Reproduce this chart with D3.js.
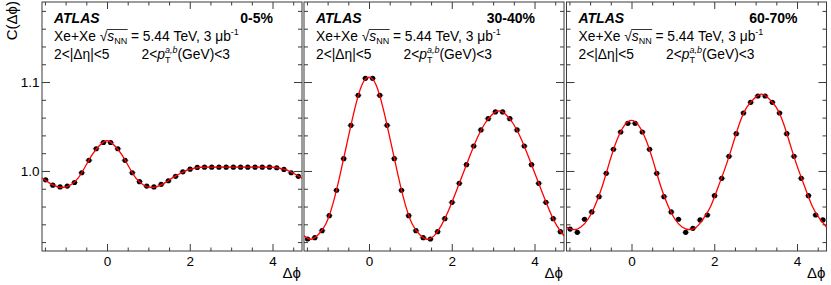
<!DOCTYPE html>
<html>
<head>
<meta charset="utf-8">
<script src="https://cdn.jsdelivr.net/npm/d3@7"></script>
<style>
  body { margin: 0; background: #fff; }
  svg text { font-family: "Liberation Sans", Arial, Helvetica, sans-serif; fill: #000; white-space: pre; }
</style>
</head>
<body>
<div id="chart"></div>
<script>
// Canvas and panel layout
const width = 831, height = 285;
const panelLeft = [42, 304, 566.5], panelWidth = 260;
const plotTop = 2, plotBottom = 251;

// Binning of delta-phi: 36 bins from -pi/2 to 3pi/2
const nBins = 36;
const phiMin = -Math.PI / 2, phiMax = 3 * Math.PI / 2;

// Labels
const centrality = ["0-5%", "30-40%", "60-70%"];
const xTickValues = [0, 2, 4];
const yTickValues = [1.0, 1.1];
const yTickLabels = ["1.0", "1.1"];

// C(dphi) per bin
const corr0to5 = [0.990, 0.984, 0.982, 0.983, 0.987, 0.998, 1.012, 1.025, 1.032, 1.032, 1.025, 1.012,
  0.998, 0.988, 0.983, 0.982, 0.985, 0.989, 0.994, 0.999, 1.002, 1.004, 1.0043, 1.0043,
  1.0043, 1.0043, 1.0043, 1.0043, 1.0043, 1.0043, 1.0043, 1.0043, 1.0036, 1.0017, 0.998, 0.994];
const corr30to40 = [0.9235, 0.925, 0.9328, 0.9497, 0.9783, 1.0138, 1.0513, 1.0851, 1.1042, 1.1042, 1.0851, 1.0513,
  1.0138, 0.9783, 0.9497, 0.9328, 0.925, 0.9235, 0.9317, 0.9463, 0.9647, 0.9861, 1.0071, 1.0281,
  1.0461, 1.0588, 1.0664, 1.0664, 1.0588, 1.0461, 1.0281, 1.0071, 0.9861, 0.9647, 0.9463, 0.9317];
const corr60to70 = [0.9347, 0.931, 0.9457, 0.9539, 0.9711, 0.9974, 1.0244, 1.0438, 1.0536, 1.0536, 1.0438, 1.0244,
  0.9974, 0.9711, 0.9539, 0.9457, 0.931, 0.9355, 0.9449, 0.9505, 0.9722, 0.9917, 1.0165, 1.0419,
  1.0652, 1.0772, 1.0843, 1.0843, 1.0772, 1.0652, 1.0419, 1.0165, 0.9917, 0.9722, 0.9505, 0.9449];

// Fit curve read at the 37 bin edges
const fit0to5 = [0.992, 0.9866, 0.9826, 0.9815, 0.9845, 0.992, 1.005, 1.019, 1.029, 1.034, 1.029, 1.019, 1.005,
  0.992, 0.9845, 0.9815, 0.9826, 0.9866, 0.992, 0.9966, 1.0007, 1.003, 1.0042, 1.0044, 1.0044,
  1.0044, 1.0044, 1.0044, 1.0044, 1.0044, 1.0044, 1.0044, 1.0042, 1.003, 1.0007, 0.9966, 0.992];
const fit30to40 = [0.927, 0.9232, 0.9285, 0.940, 0.963, 0.996, 1.033, 1.069, 1.0965, 1.1055, 1.0965, 1.069, 1.033,
  0.996, 0.963, 0.940, 0.9285, 0.9232, 0.927, 0.9385, 0.9553, 0.9754, 0.9966, 1.0176, 1.0374,
  1.0528, 1.0630, 1.0675, 1.0630, 1.0528, 1.0374, 1.0176, 0.9966, 0.9754, 0.9553, 0.9385, 0.927];
const fit60to70 = [0.937, 0.934, 0.937, 0.946, 0.962, 0.984, 1.011, 1.035, 1.051, 1.057, 1.051, 1.035, 1.011,
  0.984, 0.962, 0.946, 0.937, 0.934, 0.937, 0.947, 0.961, 0.982, 1.004, 1.029, 1.0545,
  1.072, 1.0815, 1.0865, 1.0815, 1.072, 1.0545, 1.029, 1.004, 0.982, 0.961, 0.947, 0.937];

const corrSeries = [corr0to5, corr30to40, corr60to70];
const fitSeries = [fit0to5, fit30to40, fit60to70];

const binWidth = (phiMax - phiMin) / nBins;
const binCenters = d3.range(nBins).map(i => phiMin + (i + 0.5) * binWidth);
const binEdges = d3.range(nBins + 1).map(i => phiMin + i * binWidth);

const svg = d3.select("#chart").append("svg")
  .attr("width", width)
  .attr("height", height);

const y = d3.scaleLinear().domain([0.91, 1.19]).range([plotBottom, plotTop]);

const frameColor = "#3a3a3a";

// helper: write a line of text made of pieces (sub/superscripts, stacked)
function richText(g, x0, y0, pieces, size) {
  let cx = x0, held = 0;
  pieces.forEach(p => {
    const t = g.append("text")
      .attr("x", cx)
      .attr("y", y0 + (p.dy || 0))
      .attr("font-size", p.size || size)
      .attr("font-style", p.italic ? "italic" : null)
      .text(p.t);
    const w = t.node().getComputedTextLength();
    if (p.hold) { held = w; }
    else { cx += Math.max(w, held); held = 0; }
  });
  return cx;
}

centrality.forEach((label, k) => {
  const L = panelLeft[k];
  const x = d3.scaleLinear().domain([phiMin, phiMax]).range([L, L + panelWidth]);
  const g = svg.append("g");

  // axes with inward ticks on all sides
  const minorX = d3.range(-1.5, 4.75, 0.5).filter(v => !xTickValues.includes(v));
  const minorY = d3.range(0.92, 1.185, 0.02).filter(v => !yTickValues.some(t => Math.abs(t - v) < 1e-6));

  const axes = [
    { gen: d3.axisBottom(x).tickValues(xTickValues).tickSize(-7).tickFormat(d3.format("d")).tickPadding(5), tr: `translate(0,${plotBottom})` },
    { gen: d3.axisBottom(x).tickValues(minorX).tickSize(-3.5).tickFormat(""), tr: `translate(0,${plotBottom})` },
    { gen: d3.axisTop(x).tickValues(xTickValues).tickSize(-7).tickFormat(""), tr: `translate(0,${plotTop})` },
    { gen: d3.axisTop(x).tickValues(minorX).tickSize(-3.5).tickFormat(""), tr: `translate(0,${plotTop})` },
    { gen: d3.axisLeft(y).tickValues(yTickValues).tickSize(-8).tickPadding(2.5).tickFormat((d, i) => k === 0 ? yTickLabels[i] : ""), tr: `translate(${L},0)` },
    { gen: d3.axisLeft(y).tickValues(minorY).tickSize(-4).tickFormat(""), tr: `translate(${L},0)` },
    { gen: d3.axisRight(y).tickValues(yTickValues).tickSize(-8).tickFormat(""), tr: `translate(${L + panelWidth},0)` },
    { gen: d3.axisRight(y).tickValues(minorY).tickSize(-4).tickFormat(""), tr: `translate(${L + panelWidth},0)` }
  ];
  axes.forEach(a => {
    const ag = g.append("g").attr("transform", a.tr).call(a.gen);
    ag.select(".domain").remove();
    ag.selectAll(".tick line").attr("stroke", frameColor).attr("stroke-width", 1);
    ag.selectAll(".tick text")
      .attr("font-family", "Liberation Sans, Arial, sans-serif")
      .attr("font-size", 13.5)
      .attr("fill", "#000");
  });

  g.append("rect")
    .attr("x", L).attr("y", plotTop)
    .attr("width", panelWidth).attr("height", plotBottom - plotTop)
    .attr("fill", "none").attr("stroke", frameColor).attr("stroke-width", 1);

  // data points: x error bars (half bin) and markers
  const pts = corrSeries[k].map((v, i) => ({ phi: binCenters[i], c: v }));
  g.selectAll("line.xerr").data(pts).join("line")
    .attr("class", "xerr")
    .attr("x1", d => x(d.phi - binWidth / 2))
    .attr("x2", d => x(d.phi + binWidth / 2))
    .attr("y1", d => y(d.c)).attr("y2", d => y(d.c))
    .attr("stroke", "#8f97d6").attr("stroke-width", 1);
  g.selectAll("circle").data(pts).join("circle")
    .attr("cx", d => x(d.phi)).attr("cy", d => y(d.c))
    .attr("r", 2.6).attr("fill", "#000");

  // fit curve
  const fitPts = fitSeries[k].map((v, i) => [binEdges[i], v]);
  g.append("path")
    .datum(fitPts)
    .attr("fill", "none")
    .attr("stroke", "#ff0000")
    .attr("stroke-width", 1.3)
    .attr("d", d3.line().x(d => x(d[0])).y(d => y(d[1])).curve(d3.curveNatural));

  // panel texts
  g.append("text")
    .attr("x", L + 12).attr("y", 22.5)
    .attr("font-size", 14).attr("font-weight", "bold").attr("font-style", "italic")
    .text("ATLAS");
  g.append("text")
    .attr("x", L + 231).attr("y", 22.5)
    .attr("text-anchor", "end")
    .attr("font-size", 14).attr("font-weight", "bold")
    .text(label);

  const lineSize = 13.8;
  const tx = L + 12;
  const rootX = richText(g, tx, 40.5, [{ t: "Xe+Xe\u00A0" }, { t: "\u221A" }], lineSize);
  const sEnd = richText(g, rootX, 40.5, [{ t: "s", italic: true }, { t: "NN", size: 9, dy: 3 }], lineSize);
  g.append("line")
    .attr("x1", rootX - 0.5).attr("x2", sEnd + 0.5)
    .attr("y1", 29.5).attr("y2", 29.5)
    .attr("stroke", "#000").attr("stroke-width", 0.8);
  richText(g, sEnd, 40.5, [{ t: "\u00A0=\u00A05.44\u00A0TeV,\u00A03\u00A0\u03BCb" }, { t: "-1", size: 9, dy: -5.5 }], lineSize);

  richText(g, tx, 59, [{ t: "2<|\u0394\u03B7|<5" }], lineSize);
  richText(g, L + 99.5, 59, [
    { t: "2<" }, { t: "p", italic: true },
    { t: "a,b", size: 9, dy: -6.5, italic: true, hold: true },
    { t: "T", size: 9, dy: 4 },
    { t: "(GeV)<3" }
  ], lineSize);

  // x axis title
  g.append("text")
    .attr("x", L + panelWidth - 1).attr("y", 278)
    .attr("text-anchor", "end")
    .attr("font-size", 15)
    .text("\u0394\u03D5");
});

// y axis title
svg.append("text")
  .attr("transform", "translate(17,1) rotate(-90)")
  .attr("text-anchor", "end")
  .attr("font-size", 15)
  .text("C(\u0394\u03D5)");
</script>
</body>
</html>
